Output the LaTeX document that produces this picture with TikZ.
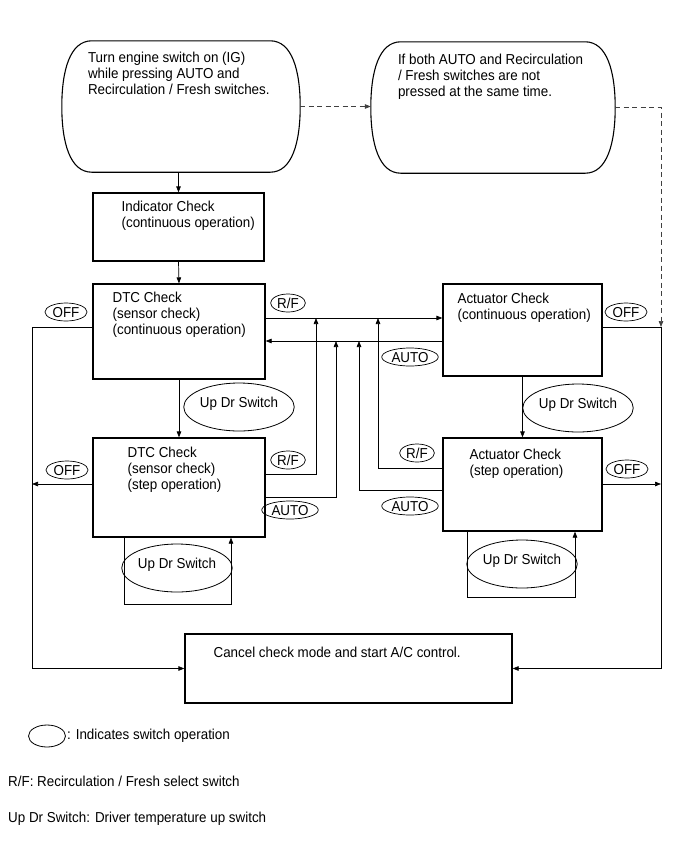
\documentclass[tikz,border=0pt]{standalone}
\usepackage{fontspec}
\setmainfont[FakeStretch=0.93]{Liberation Sans}
\usetikzlibrary{positioning, arrows.meta, shapes.geometric, calc}

\begin{document}
\begin{tikzpicture}[x=1pt, y=-1pt,
    term/.style={rectangle, draw=none, inner sep=0pt},
    box/.style={rectangle, draw=black, line width=1.2pt, inner sep=0pt},
    txt/.style={inner sep=0pt, align=left, font=\fontsize{14.4}{16}\selectfont},
    sw/.style={ellipse, draw, line width=0.7pt, inner xsep=1.5pt, inner ysep=0pt, minimum height=18pt, text height=10.2pt, text depth=0pt, font=\fontsize{14.4}{16}\selectfont},
    updr/.style={ellipse, draw, line width=0.8pt, minimum width=101pt, minimum height=48pt, inner sep=0pt, text height=10.3pt, text depth=9pt, font=\fontsize{14.4}{16}\selectfont},
    outline/.style={draw=black, line width=1.1pt},
    line/.style={line width=0.7pt},
    arrow/.style={-{Triangle[length=6pt, width=4.5pt]}, line width=0.7pt},
    dashline/.style={dash pattern=on 5pt off 3.5pt, line width=0.7pt, draw=black!75},
]
\useasboundingbox (0,0) rectangle (691,855);

% ========== START ==========
\node[term, minimum width=238pt, minimum height=131pt] (start) at (181,106.5) {};
\node[term, minimum width=244pt, minimum height=131pt] (nopress) at (493,107.5) {};
\foreach \n in {start, nopress} {
  \draw[outline] ($(\n.north west)+(30,0)$) -- ($(\n.north east)+(-30,0)$)
    .. controls ($(\n.north east)+(-8,0)$) and ($(\n.north east)+(0,30)$) .. (\n.east)
    .. controls ($(\n.south east)+(0,-30)$) and ($(\n.south east)+(-8,0)$) .. ($(\n.south east)+(-30,0)$)
    -- ($(\n.south west)+(30,0)$)
    .. controls ($(\n.south west)+(8,0)$) and ($(\n.south west)+(0,-30)$) .. (\n.west)
    .. controls ($(\n.north west)+(0,30)$) and ($(\n.north west)+(8,0)$) .. cycle;
}
\node[txt, below right=11pt and 26pt of start.north west] {Turn engine switch on (IG)\\while pressing AUTO and\\Recirculation / Fresh switches.};
\node[txt, below right=12pt and 27pt of nopress.north west] {If both AUTO and Recirculation\\/ Fresh switches are not\\pressed at the same time.};

% ========== CHECK MODES ==========
\node[box, minimum width=171pt, minimum height=68pt] (indcheck) at (178.5,227) {};
\node[box, minimum width=172pt, minimum height=95pt] (dtccont) at (179,331.5) {};
\node[box, minimum width=159pt, minimum height=92pt] (actcont) at (522.5,330) {};
\node[box, minimum width=172pt, minimum height=99pt] (dtcstep) at (179,487.5) {};
\node[box, minimum width=159pt, minimum height=93pt] (actstep) at (522.5,484.5) {};
\node[box, minimum width=327pt, minimum height=69pt] (cancel) at (348.5,668.5) {};

\node[txt, below right=8pt and 29pt of indcheck.north west] {Indicator Check\\(continuous operation)};
\node[txt, below right=8pt and 20pt of dtccont.north west] {DTC Check\\(sensor check)\\(continuous operation)};
\node[txt, below right=9pt and 15pt of actcont.north west] {Actuator Check\\(continuous operation)};
\node[txt, below right=9pt and 35pt of dtcstep.north west] {DTC Check\\(sensor check)\\(step operation)};
\node[txt, below right=11pt and 27pt of actstep.north west] {Actuator Check\\(step operation)};
\node[txt, below right=13pt and 29pt of cancel.north west] {Cancel check mode and start A/C control.};

% ========== SWITCHES ==========
\node[sw] (offa) at (66,312) {OFF};
\node[sw] (offb) at (626,312) {OFF};
\node[sw] (offc) at (67,470) {OFF};
\node[sw] (offd) at (627,469) {OFF};
\node[sw] (rfa) at (288,303) {R/F};
\node[sw] (autoa) at (410,357) {AUTO};
\node[sw] (rfc) at (288,460) {R/F};
\node[sw] (autoc) at (290,510) {AUTO};
\node[sw] (rfd) at (417,453) {R/F};
\node[sw] (autod) at (410,506) {AUTO};
\node[updr] (updra) at (239,407) {Up Dr Switch};
\node[updr] (updrb) at (578,408) {Up Dr Switch};
\node[updr] (updrc) at (177,568) {Up Dr Switch};
\node[updr] (updrd) at (522,564) {Up Dr Switch};

% ========== JUNCTIONS ==========
\coordinate (offl) at (32,327);
\coordinate (offr) at (661,327);
\coordinate (stepoff) at (0,484);
\coordinate (rfrow) at (0,318);
\coordinate (autorow) at (0,341);
\coordinate (rfj1) at (316,318);
\coordinate (rfj2) at (378,318);
\coordinate (autoj1) at (336,341);
\coordinate (autoj2) at (359,341);
\coordinate (dsrf) at (0,474);
\coordinate (dsauto) at (0,497);
\coordinate (asrf) at (0,468);
\coordinate (asauto) at (0,490);
\coordinate (loopa1) at (124,604);
\coordinate (loopa2) at (231,604);
\coordinate (loopb1) at (467,597);
\coordinate (loopb2) at (575,597);

% ========== ARROWS ==========
\draw[arrow] (start.south -| indcheck.north) -- (indcheck.north);
\draw[arrow] (indcheck.south) -- (dtccont.north);
\draw[dashline, arrow] (start.east) -- (start.east -| nopress.west);
\draw[dashline, arrow] (nopress.east) -| (offr);

\draw[arrow] (dtccont.east |- rfrow) -- (actcont.west |- rfrow);
\draw[arrow] (actcont.west |- autorow) -- (dtccont.east |- autorow);
\draw[arrow] (dtccont.south) -- (dtcstep.north);
\draw[arrow] (actcont.south) -- (actstep.north);

\draw[arrow] (dtcstep.east |- dsrf) -| (rfj1);
\draw[arrow] (dtcstep.east |- dsauto) -| (autoj1);
\draw[arrow] (actstep.west |- asrf) -| (rfj2);
\draw[arrow] (actstep.west |- asauto) -| (autoj2);

\draw[arrow] (dtcstep.south -| loopa1) -- (loopa1) -- (loopa2) -- (dtcstep.south -| loopa2);
\draw[arrow] (actstep.south -| loopb1) -- (loopb1) -- (loopb2) -- (actstep.south -| loopb2);

% OFF to cancel
\draw[arrow] (dtccont.west |- offl) -- (offl) |- (cancel.west);
\draw[arrow] (actcont.east |- offr) -- (offr) |- (cancel.east);
\draw[arrow] (dtcstep.west |- stepoff) -- (offl |- stepoff);
\draw[arrow] (actstep.east |- stepoff) -- (offr |- stepoff);

% ========== LEGEND ==========
\node[ellipse, draw, line width=0.8pt, minimum width=37pt, minimum height=22pt, inner sep=0pt] (legsw) at (47,736) {};
\node[txt, right=1pt of legsw] (legswt) {: Indicates switch operation};
\node[txt, anchor=west] (legrf) at (8,781) {R/F: Recirculation / Fresh select switch};
\node[txt, anchor=west] (legup) at (8,819) {Up Dr Switch: Driver temperature up switch};

\end{tikzpicture}
\end{document}
